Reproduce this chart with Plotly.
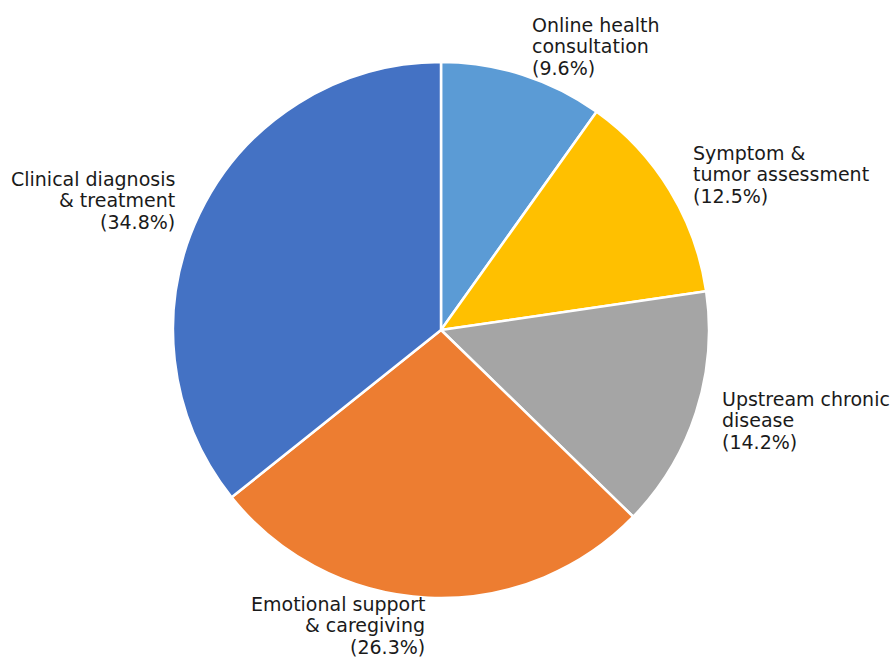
import math
import plotly.graph_objects as go

# Share of topics (percent)
labels = [
    "Online health<br>consultation",
    "Symptom &<br>tumor assessment",
    "Upstream chronic<br>disease",
    "Emotional support<br>& caregiving",
    "Clinical diagnosis<br>& treatment",
]
values = [9.6, 12.5, 14.2, 26.3, 34.8]
colors = ["#5B9BD5", "#FFC000", "#A5A5A5", "#ED7D31", "#4472C4"]

W, H = 891, 657
cx_px, cy_px, r_px = 441, 330, 268
dom_x = [(cx_px - r_px) / W, (cx_px + r_px) / W]
dom_y = [(H - cy_px - r_px) / H, (H - cy_px + r_px) / H]

fig = go.Figure(
    go.Pie(
        labels=[l.replace("<br>", " ") for l in labels],
        values=values,
        sort=False,
        direction="clockwise",
        rotation=0,
        marker=dict(colors=colors, line=dict(color="white", width=2.5)),
        textinfo="none",
        hoverinfo="label+value",
        domain=dict(x=dom_x, y=dom_y),
    )
)

# Outside labels placed just beyond the rim along each slice's mid-angle,
# one annotation per text line so the line pitch can be set exactly
FONT_SIZE = 19
LINE_PX = 21.5
LABEL_RX = 1.1 * r_px - 2
LABEL_RY = 1.1 * r_px + 2
total = sum(values)
start = 90.0
annotations = []
for lab, v in zip(labels, values):
    sweep = 360.0 * v / total
    mid = math.radians(start - sweep / 2)
    start -= sweep
    dx = LABEL_RX * math.cos(mid)
    dy = LABEL_RY * math.sin(mid)
    left = dx >= 0
    lines = lab.split("<br>") + [f"({v}%)"]
    n = len(lines)
    for i, line in enumerate(lines):
        off = ((n - 1) / 2 - i) * LINE_PX + 1
        annotations.append(
            dict(
                x=(cx_px + dx) / W,
                y=(H - cy_px + dy + off) / H,
                xref="paper",
                yref="paper",
                text=line,
                showarrow=False,
                xanchor="left" if left else "right",
                yanchor="middle",
                font=dict(family="DejaVu Sans", size=FONT_SIZE, color="#1a1a1a"),
            )
        )

fig.update_layout(
    width=W,
    height=H,
    margin=dict(l=0, r=0, t=0, b=0),
    paper_bgcolor="white",
    plot_bgcolor="white",
    showlegend=False,
    annotations=annotations,
)

fig.write_html("out.html")
